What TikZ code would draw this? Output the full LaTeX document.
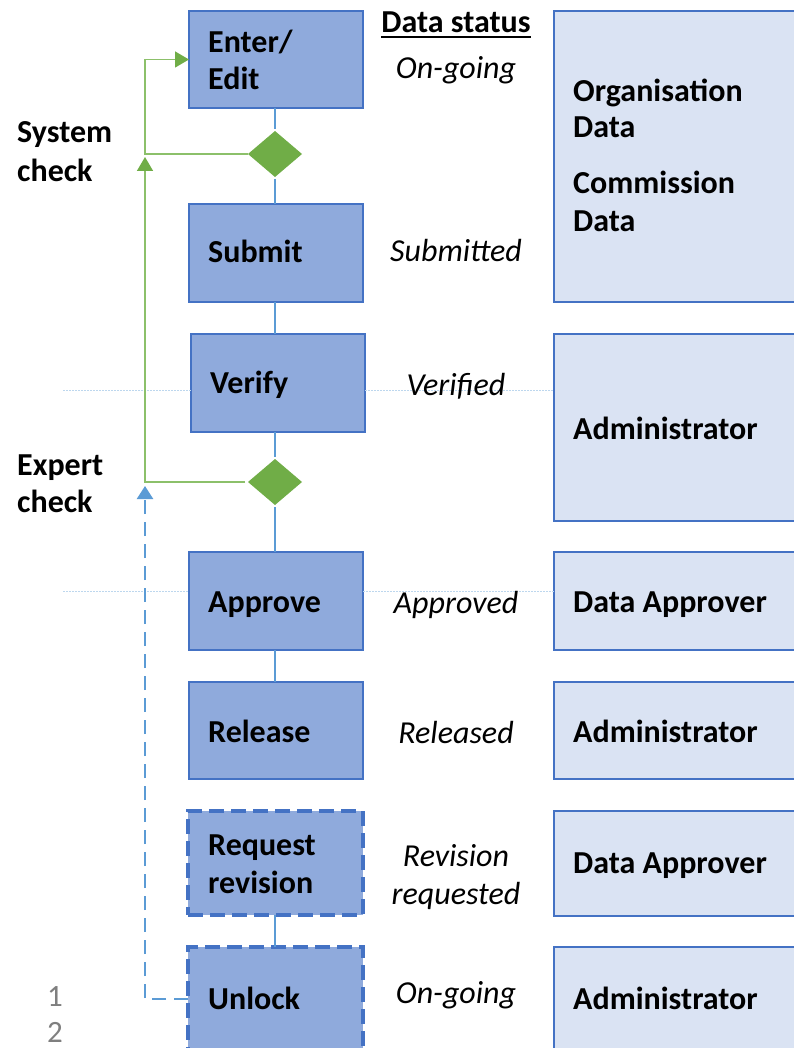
\documentclass[tikz,border=0pt]{standalone}
\usepackage{fontspec}
\setmainfont{Carlito}
\usetikzlibrary{arrows.meta,shapes.geometric,calc}
\definecolor{boxfill}{HTML}{8FAADC}
\definecolor{boxline}{HTML}{4472C4}
\definecolor{rolefill}{HTML}{DAE3F3}
\definecolor{greenc}{HTML}{70AD47}
\definecolor{greenl}{HTML}{8CC06A}
\definecolor{conn}{HTML}{5B9BD5}
\definecolor{dotc}{HTML}{BDD7EE}
\definecolor{numgray}{HTML}{7F7F7F}
\begin{document}
\begin{tikzpicture}[x=1pt,y=-1pt,
  stepbox/.style={draw=boxline, fill=boxfill, line width=1.5pt, minimum width=174pt, inner sep=0pt, outer sep=0pt},
  dashbox/.style={stepbox, line width=3.5pt, dash pattern=on 15pt off 7pt},
  rolebox/.style={draw=boxline, fill=rolefill, line width=1.5pt, minimum width=276pt, inner sep=0pt, outer sep=0pt},
  dec/.style={diamond, fill=greenc, minimum width=54pt, minimum height=46pt, inner sep=0pt, outer sep=0pt},
  lbl/.style={anchor=base west, inner sep=0pt, font=\bfseries\fontsize{32}{38}\selectfont},
  status/.style={anchor=base, inner sep=0pt, font=\itshape\fontsize{32}{38}\selectfont},
  num/.style={anchor=base, inner sep=0pt, text=numgray, font=\fontsize{31}{37}\selectfont},
  flow/.style={draw=conn, line width=1.2pt},
  greenflow/.style={draw=greenl, line width=1.5pt},
  greenarrow/.style={-{Triangle[length=14pt,width=16pt,fill=greenc,color=greenc]}},
  dashflow/.style={draw=conn, line width=2.4pt, dash pattern=on 14pt off 8pt, -{Triangle[length=13pt,width=16pt]}},
  dotline/.style={draw=dotc, line width=1pt, dash pattern=on 1.5pt off 1.5pt}
]
\useasboundingbox (0,0) rectangle (794,1048);
\clip (0,0) rectangle (794,1048);

% dotted guide lines
\coordinate (g1a) at (63,390);
\coordinate (g2a) at (63,591);

% step boxes
\node[stepbox, minimum height=97pt] (enter) at (276,59.5) {};
\node[stepbox, minimum height=98pt] (submit) at (276,253) {};
\node[stepbox, minimum height=98pt] (verify) at (278,383) {};
\node[stepbox, minimum height=98pt] (approve) at (276,601) {};
\node[stepbox, minimum height=97pt] (release) at (276,730.5) {};
\node[dashbox, minimum height=104pt, minimum width=175pt] (request) at (275.5,863) {};
\node[dashbox, minimum height=122pt, minimum width=175pt] (unlock) at (275.5,1008) {};

% decisions
\node[dec] (d1) at (275,154) {};
\node[dec] (d2) at (275,482) {};

% role boxes
\node[rolebox, minimum height=291pt] (r1) at (692,156.5) {};
\node[rolebox, minimum height=187pt] (r2) at (692,427.5) {};
\node[rolebox, minimum height=98pt] (r3) at (692,601) {};
\node[rolebox, minimum height=97pt] (r4) at (692,730.5) {};
\node[rolebox, minimum height=105pt] (r5) at (692,863.5) {};
\node[rolebox, minimum height=123pt] (r6) at (692,1008.5) {};

% dotted lines
\draw[dotline] (g1a) -- (g1a -| verify.west);
\draw[dotline] (verify.east |- g1a) -- (r2.west |- g1a);
\draw[dotline] (g2a) -- (g2a -| approve.west);
\draw[dotline] (approve.east |- g2a) -- (r3.west |- g2a);

% vertical flow
\draw[flow, shorten >=2pt] (enter.south -| d1) -- (d1.north);
\draw[flow, shorten <=2pt] (d1.south) -- (submit.north -| d1);
\draw[flow] (submit.south -| d1) -- (verify.north -| d1);
\draw[flow, shorten >=2pt] (verify.south -| d2) -- (d2.north);
\draw[flow, shorten <=2pt] (d2.south) -- (approve.north -| d2);
\draw[flow] (approve.south -| d2) -- (release.north -| d2);
\draw[flow] (request.south -| d2) -- (unlock.north -| d2);

% green feedback
\coordinate (gx) at (145,0);
\coordinate (sysin) at (145,157);
\draw[greenflow, greenarrow] (d1.west) -- (d1.west -| gx) |- (enter.west);
\draw[greenflow, greenarrow] ([xshift=-3pt]d2.west) -| (sysin);

% dashed unlock feedback
\coordinate (expin) at (145,486);
\draw[dashflow] ([yshift=9pt]unlock.west) -| (expin);

% step labels
\node[lbl] (t1) at (208,53) {Enter/};
\node[lbl] (t1b) at (208,90) {Edit};
\node[lbl] (t2) at (208,263) {Submit};
\node[lbl] (t3) at (210,393) {Verify};
\node[lbl] (t4) at (208,612) {Approve};
\node[lbl] (t5) at (208,742) {Release};
\node[lbl] (t6) at (208,855) {Request};
\node[lbl] (t6b) at (208,893) {revision};
\node[lbl] (t7) at (208,1009) {Unlock};

% side labels
\node[lbl] (s1) at (17,143) {System};
\node[lbl] (s1b) at (17,182) {check};
\node[lbl] (s2) at (17,475) {Expert};
\node[lbl] (s2b) at (17,512) {check};

% status column
\node[anchor=base, inner sep=0pt, font=\bfseries\fontsize{32}{38}\selectfont] (ds) at (456,33) {Data status};
\draw[line width=1.5pt] ([yshift=-4pt]ds.base west) -- ([yshift=-4pt]ds.base east);
\node[status] (st1) at (456,79) {On-going};
\node[status] (st2) at (456,262) {Submitted};
\node[status] (st3) at (456,395) {Verified};
\node[status] (st4) at (456,613) {Approved};
\node[status] (st5) at (456,743) {Released};
\node[status] (st6) at (456,866) {Revision};
\node[status] (st6b) at (456,904) {requested};
\node[status] (st7) at (456,1003) {On-going};

% role labels
\node[lbl] (o1) at (573,102) {Organisation};
\node[lbl] (o2) at (573,138) {Data};
\node[lbl] (o3) at (573,194) {Commission};
\node[lbl] (o4) at (573,232) {Data};
\node[lbl] (o5) at (573,439) {Administrator};
\node[lbl] (o6) at (573,612) {Data Approver};
\node[lbl] (o7) at (573,742) {Administrator};
\node[lbl] (o8) at (573,873) {Data Approver};
\node[lbl] (o9) at (573,1009) {Administrator};

% line numbers
\node[num] (n1) at (55,1006) {1};
\node[num] (n2) at (55,1042) {2};
\end{tikzpicture}
\end{document}
